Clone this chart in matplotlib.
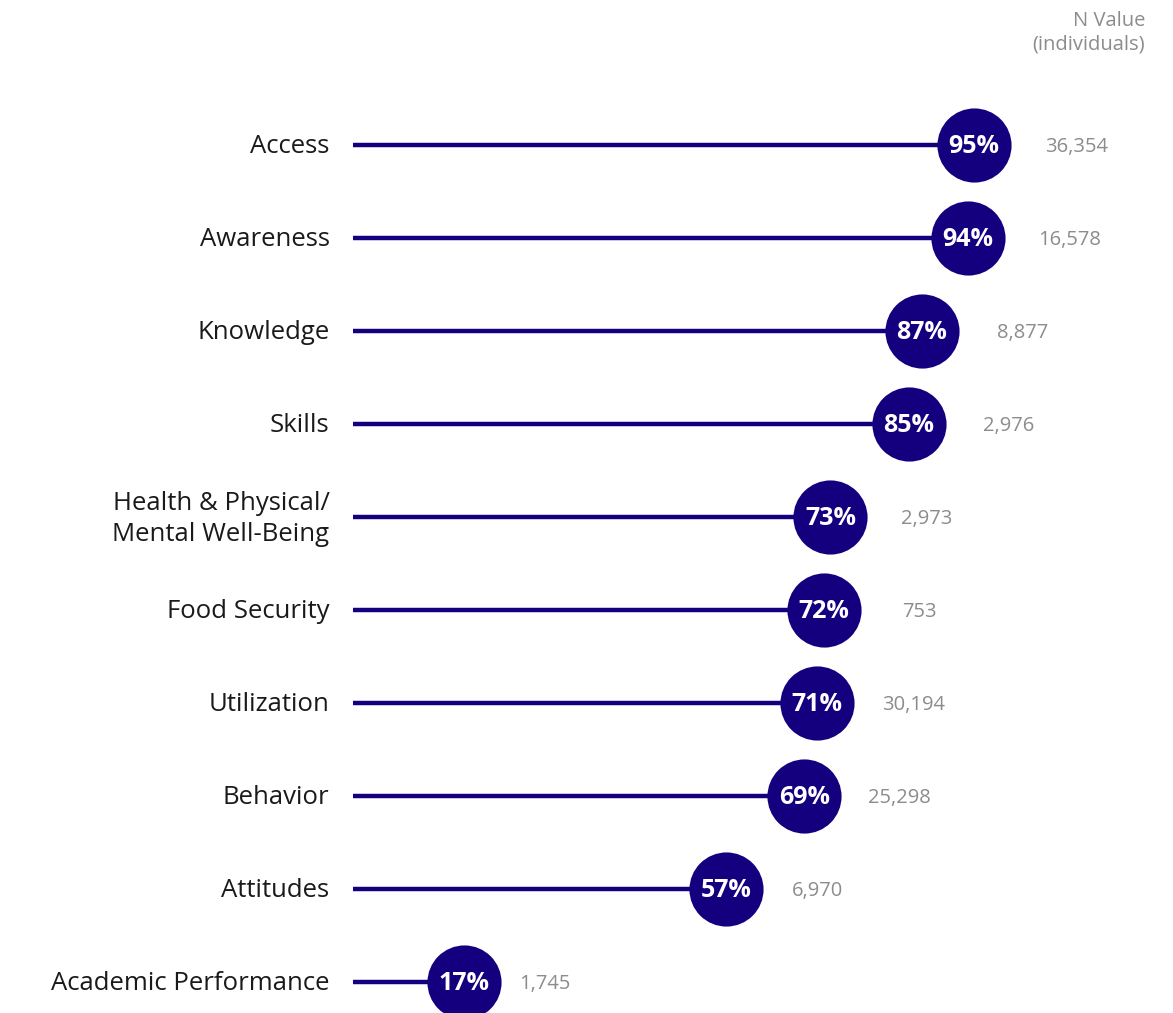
import matplotlib.pyplot as plt

# outcome categories, share of positive results and sample size
categories = ["Access", "Awareness", "Knowledge", "Skills",
              "Health & Physical/\nMental Well-Being", "Food Security",
              "Utilization", "Behavior", "Attitudes", "Academic Performance"]
percents = [95, 94, 87, 85, 73, 72, 71, 69, 57, 17]
n_values = ["36,354", "16,578", "8,877", "2,976", "2,973", "753",
            "30,194", "25,298", "6,970", "1,745"]

navy = "#14007f"
grey = "#8c8c8c"
plt.rcParams["font.family"] = ["Open Sans", "DejaVu Sans"]

fig = plt.figure(figsize=(11.73, 10.13), dpi=100)
ax = fig.add_axes([0, 0, 1, 1])
ax.set_xlim(-54, 125.4)
ax.set_ylim(9.333, -1.559)
ax.set_axis_off()

rows = list(range(len(categories)))

# stems from zero to each value
ax.hlines(rows, 0, percents, color=navy, linewidth=3.2, zorder=1)
# heads
ax.scatter(percents, rows, s=2850, color=navy, zorder=2, linewidths=0)

for i, (cat, pct, n) in enumerate(zip(categories, percents, n_values)):
    ax.text(-3.6, i + 0.02, cat, ha="right", va="center", fontsize=18.5,
            color="#1a1a1a", linespacing=1.3)
    ax.text(pct, i + 0.02, f"{pct}%", ha="center", va="center", fontsize=18,
            fontweight="bold", color="white", zorder=3)
    # sample size sits a little further out the larger the value
    ax.text(11.6 + 1.043 * pct, i + 0.02, n, ha="center", va="center",
            fontsize=14.5, color=grey)

fig.text(1145 / 1173, 1 - 11 / 1013, "N Value\n(individuals)", ha="right",
         va="top", fontsize=14.5, color=grey, linespacing=1.25)

fig.savefig("out.png", dpi=100)
